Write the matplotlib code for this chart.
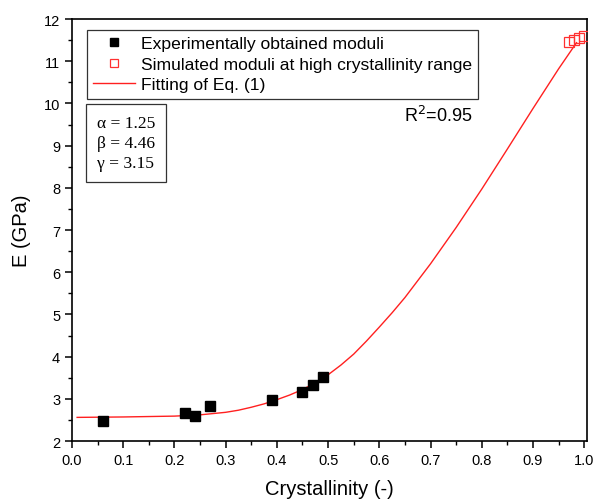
import matplotlib
matplotlib.use('Agg')
import matplotlib.pyplot as plt
from matplotlib.ticker import MultipleLocator

plt.rcParams['font.family'] = ['Liberation Sans', 'DejaVu Sans']

# Experimentally obtained moduli
exp_x = [0.06, 0.22, 0.24, 0.27, 0.39, 0.45, 0.47, 0.49]
exp_y = [2.47, 2.66, 2.60, 2.84, 2.98, 3.17, 3.33, 3.52]

# Simulated moduli at high crystallinity
sim_x = [0.97, 0.98, 0.99, 1.0]
sim_y = [11.45, 11.50, 11.55, 11.60]

# Fitting curve of Eq. (1)
fit_x = [0.01, 0.1, 0.2, 0.25, 0.275, 0.3, 0.325, 0.35, 0.375, 0.4, 0.425, 0.45,
         0.475, 0.5, 0.525, 0.55, 0.575, 0.6, 0.625, 0.65, 0.7, 0.75, 0.8, 0.85,
         0.9, 0.95, 0.985]
fit_y = [2.56, 2.57, 2.59, 2.62, 2.65, 2.68, 2.73, 2.80, 2.88, 2.98, 3.09, 3.22,
         3.38, 3.57, 3.80, 4.06, 4.37, 4.70, 5.04, 5.40, 6.20, 7.06, 7.97, 8.92,
         9.88, 10.82, 11.44]

params_text = "\u03b1 = 1.25\n\u03b2 = 4.46\n\u03b3 = 3.15"

fig = plt.figure(figsize=(5.95, 5.02), dpi=100)
ax = fig.add_axes([0.121, 0.1195, 0.866, 0.8405])

ax.plot(fit_x, fit_y, color='#ff2020', lw=1.0, label='Fitting of Eq. (1)', zorder=2)
ax.plot(exp_x, exp_y, ls='none', marker='s', ms=7, color='black',
        label='Experimentally obtained moduli', zorder=3)
ax.plot(sim_x, sim_y, ls='none', marker='s', ms=6.5, mfc='none', mec='#ff3030',
        mew=0.9, label='Simulated moduli at high crystallinity range', zorder=3)

ax.set_xlim(0, 1.006)
ax.set_ylim(2, 12)
ax.xaxis.set_major_locator(MultipleLocator(0.1))
ax.xaxis.set_minor_locator(MultipleLocator(0.05))
ax.yaxis.set_major_locator(MultipleLocator(1))
ax.yaxis.set_minor_locator(MultipleLocator(0.5))
ax.xaxis.set_major_formatter(plt.FormatStrFormatter('%.1f'))
ax.tick_params(which='major', direction='out', length=5, width=1.1, labelsize=10.5)
ax.tick_params(which='minor', direction='out', length=3, width=1.0)
for s in ax.spines.values():
    s.set_linewidth(1.2)

ax.set_xlabel('Crystallinity (-)', fontsize=14.5, labelpad=9)
ax.set_ylabel('E (GPa)', fontsize=14.5, labelpad=9)

handles, labels = ax.get_legend_handles_labels()
order = [1, 2, 0]
leg = ax.legend([handles[i] for i in order], [labels[i] for i in order],
                loc='upper left', bbox_to_anchor=(0.0285, 0.974), borderaxespad=0,
                fontsize=12.6, fancybox=False, edgecolor='#333333', framealpha=1,
                handlelength=2.4, handletextpad=0.35, labelspacing=0.3,
                borderpad=0.35)
leg.get_frame().set_linewidth(0.9)
leg.legend_handles[0].set_markersize(5.5)
leg.legend_handles[1].set_markersize(5.5)

ax.text(0.048, 0.773, params_text, transform=ax.transAxes, ha='left', va='top',
        fontsize=12.6, family='Liberation Serif', linespacing=1.35,
        bbox=dict(boxstyle='square,pad=0.6', fc='white', ec='#333333', lw=0.9))

ax.text(0.711, 0.772, 'R$^2$=0.95', transform=ax.transAxes, ha='center', va='center',
        fontsize=13)

fig.savefig('out.png', dpi=100)
